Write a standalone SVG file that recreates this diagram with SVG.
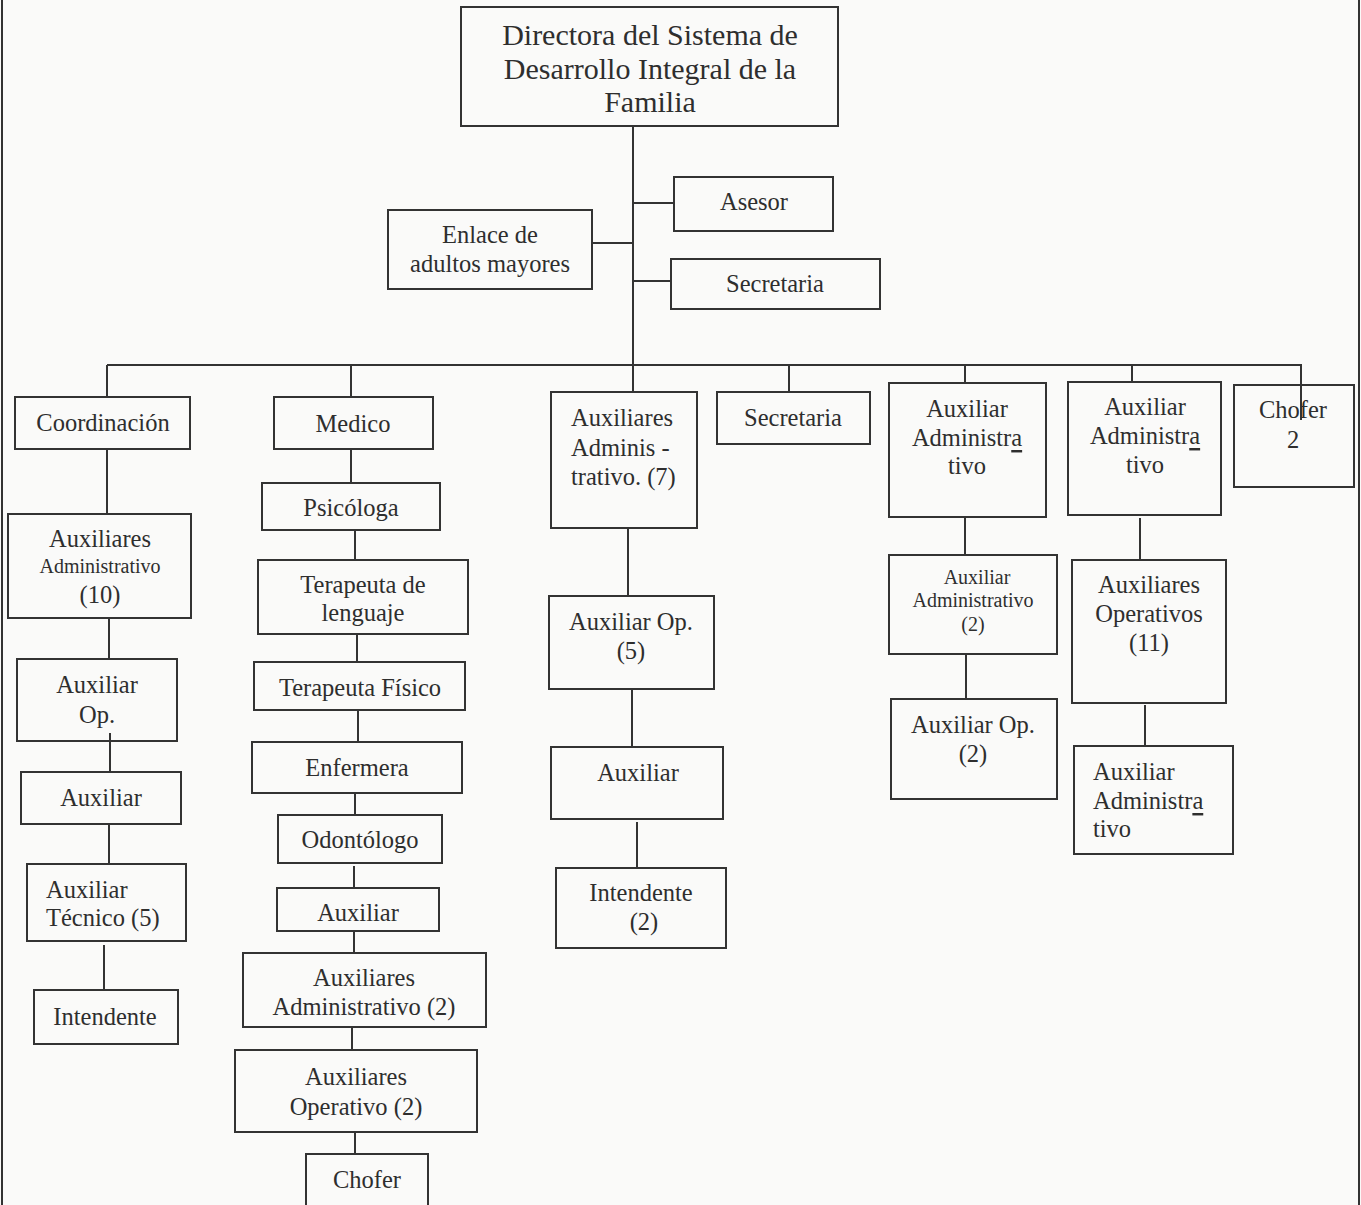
<svg xmlns="http://www.w3.org/2000/svg" width="1361" height="1205" viewBox="0 0 1361 1205">
<style>
.b{fill:none;stroke:#333;stroke-width:2}
.c{fill:none;stroke:#333;stroke-width:2}
text{font-family:"Liberation Serif","Times New Roman",serif;font-size:24.5px;fill:#2e2e2e;text-anchor:middle;dominant-baseline:central}
.l{text-anchor:start}
.s{font-size:20px}
.t{font-size:30px}
.u{text-decoration:underline}
</style>
<rect width="1361" height="1205" fill="#fafaf9"/>
<g id="page-border" class="c"><line x1="2" y1="0" x2="2" y2="1205"/><line x1="1359" y1="0" x2="1359" y2="1205"/></g>
<g id="connectors" class="c">
<path d="M633 126V365"/>
<path d="M633 203H674M592 243H633M633 281H671"/>
<path d="M107 365H1301V420"/>
<path d="M107 365V397M351 365V397M633 365V392M789 365V392M965 365V383M1132 365V382"/>
<path d="M107 449V514M109 618V659M110 733V772M109 824V864M104 945V990"/>
<path d="M351 449V483M355 530V560M357 634V662M358 710V742M355 793V815M354 866V888M354 931V953M352 1027V1050M355 1132V1154"/>
<path d="M628 528V596M632 689V747M637 822V868"/>
<path d="M965 517V555M966 654V699"/>
<path d="M1140 518V560M1145 705V746"/>
</g>
<g id="n-directora"><rect class="b" x="461" y="7" width="377" height="119"/><text class="t" x="650" y="34">Directora del Sistema de</text><text class="t" x="650" y="68">Desarrollo Integral de la</text><text class="t" x="650" y="101">Familia</text></g>
<g id="n-asesor"><rect class="b" x="674" y="177" width="159" height="54"/><text x="754" y="201">Asesor</text></g>
<g id="n-enlace"><rect class="b" x="388" y="210" width="204" height="79"/><text x="490" y="234">Enlace de</text><text x="490" y="263">adultos mayores</text></g>
<g id="n-secretaria-top"><rect class="b" x="671" y="259" width="209" height="50"/><text x="775" y="283">Secretaria</text></g>
<g id="n-coordinacion"><rect class="b" x="15" y="397" width="175" height="52"/><text x="103" y="422">Coordinación</text></g>
<g id="n-medico"><rect class="b" x="274" y="397" width="159" height="52"/><text x="353" y="423">Medico</text></g>
<g id="n-aux-adm7"><rect class="b" x="551" y="392" width="146" height="136"/><text class="l" x="571" y="417">Auxiliares</text><text class="l" x="571" y="447">Adminis -</text><text class="l" x="571" y="476">trativo. (7)</text></g>
<g id="n-secretaria"><rect class="b" x="717" y="392" width="153" height="52"/><text x="793" y="417">Secretaria</text></g>
<g id="n-aux-adm-a"><rect class="b" x="889" y="383" width="157" height="134"/><text x="967" y="408">Auxiliar</text><text x="967" y="437">Administr<tspan class="u">a</tspan></text><text x="967" y="465">tivo</text></g>
<g id="n-aux-adm-b"><rect class="b" x="1068" y="382" width="153" height="133"/><text x="1145" y="406">Auxiliar</text><text x="1145" y="435">Administr<tspan class="u">a</tspan></text><text x="1145" y="464">tivo</text></g>
<g id="n-chofer2"><rect class="b" x="1234" y="385" width="120" height="102"/><text x="1293" y="409">Chofer</text><text x="1293" y="439">2</text></g>
<g id="n-aux-adm10"><rect class="b" x="8" y="514" width="183" height="104"/><text x="100" y="538">Auxiliares</text><text class="s" x="100" y="566">Administrativo</text><text x="100" y="594">(10)</text></g>
<g id="n-aux-op"><rect class="b" x="17" y="659" width="160" height="82"/><text x="97" y="684">Auxiliar</text><text x="97" y="714">Op.</text></g>
<g id="n-auxiliar-l"><rect class="b" x="21" y="772" width="160" height="52"/><text x="101" y="797">Auxiliar</text></g>
<g id="n-aux-tec"><rect class="b" x="27" y="864" width="159" height="77"/><text class="l" x="46" y="889">Auxiliar</text><text class="l" x="46" y="917">Técnico (5)</text></g>
<g id="n-intendente-l"><rect class="b" x="34" y="990" width="144" height="54"/><text x="105" y="1016">Intendente</text></g>
<g id="n-psicologa"><rect class="b" x="262" y="483" width="178" height="47"/><text x="351" y="507">Psicóloga</text></g>
<g id="n-ter-leng"><rect class="b" x="258" y="560" width="210" height="74"/><text x="363" y="584">Terapeuta de</text><text x="363" y="612">lenguaje</text></g>
<g id="n-ter-fis"><rect class="b" x="254" y="662" width="211" height="48"/><text x="360" y="687">Terapeuta Físico</text></g>
<g id="n-enfermera"><rect class="b" x="252" y="742" width="210" height="51"/><text x="357" y="767">Enfermera</text></g>
<g id="n-odontologo"><rect class="b" x="278" y="815" width="164" height="48"/><text x="360" y="839">Odontólogo</text></g>
<g id="n-auxiliar-m"><rect class="b" x="277" y="888" width="162" height="43"/><text x="358" y="912">Auxiliar</text></g>
<g id="n-aux-adm2"><rect class="b" x="243" y="953" width="243" height="74"/><text x="364" y="977">Auxiliares</text><text x="364" y="1006">Administrativo (2)</text></g>
<g id="n-aux-oper2"><rect class="b" x="235" y="1050" width="242" height="82"/><text x="356" y="1076">Auxiliares</text><text x="356" y="1106">Operativo (2)</text></g>
<g id="n-chofer"><rect class="b" x="306" y="1154" width="122" height="52"/><text x="367" y="1179">Chofer</text></g>
<g id="n-aux-op5"><rect class="b" x="549" y="596" width="165" height="93"/><text x="631" y="621">Auxiliar Op.</text><text x="631" y="650">(5)</text></g>
<g id="n-auxiliar-c"><rect class="b" x="551" y="747" width="172" height="72"/><text x="638" y="772">Auxiliar</text></g>
<g id="n-intendente2"><rect class="b" x="556" y="868" width="170" height="80"/><text x="641" y="892">Intendente</text><text x="644" y="921">(2)</text></g>
<g id="n-aux-adm-2"><rect class="b" x="889" y="555" width="168" height="99"/><text class="s" x="977" y="577">Auxiliar</text><text class="s" x="973" y="600">Administrativo</text><text class="s" x="973" y="624">(2)</text></g>
<g id="n-aux-op2"><rect class="b" x="891" y="699" width="166" height="100"/><text x="973" y="724">Auxiliar Op.</text><text x="973" y="753">(2)</text></g>
<g id="n-aux-oper11"><rect class="b" x="1072" y="560" width="154" height="143"/><text x="1149" y="584">Auxiliares</text><text x="1149" y="613">Operativos</text><text x="1149" y="642">(11)</text></g>
<g id="n-aux-adm-c"><rect class="b" x="1074" y="746" width="159" height="108"/><text class="l" x="1093" y="771">Auxiliar</text><text class="l" x="1093" y="800">Administr<tspan class="u">a</tspan></text><text class="l" x="1093" y="828">tivo</text></g>
</svg>
